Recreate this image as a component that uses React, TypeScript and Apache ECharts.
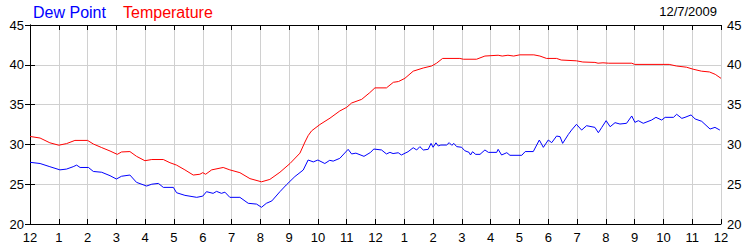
import React, { useEffect, useRef } from "react";
import * as echarts from "echarts";

// Hours after midnight (12/7/2009) and readings in °F
const tempHours = [0.0, 0.35, 0.69, 1.0, 1.27, 1.56, 2.0, 2.2, 2.49, 2.78, 3.03, 3.18, 3.47, 3.7, 3.99, 4.23, 4.63, 4.86, 5.09, 5.38, 5.67, 5.9, 6.0, 6.1, 6.31, 6.71, 6.94, 7.29, 7.64, 8.04, 8.33, 8.68, 9.03, 9.375, 9.55, 9.66, 9.78, 10.07, 10.42, 10.76, 11.0, 11.17, 11.52, 11.8, 11.98, 12.38, 12.62, 12.8, 13.02, 13.31, 13.66, 13.95, 14.12, 14.33, 14.93, 15.05, 15.51, 15.8, 16.26, 16.4, 16.6, 16.8, 17.01, 17.5, 17.71, 17.94, 18.29, 18.45, 18.98, 19.2, 19.62, 19.73, 19.9, 20.1, 20.9, 21.0, 22.2, 22.45, 22.8, 23.03, 23.32, 23.6, 23.8, 24.0];
const tempValues = [31.0, 30.8, 30.2, 29.9, 30.1, 30.5, 30.5, 30.05, 29.6, 29.17, 28.75, 29.05, 29.1, 28.5, 27.95, 28.1, 28.1, 27.7, 27.4, 26.8, 26.15, 26.25, 26.45, 26.25, 26.8, 27.1, 26.8, 26.45, 25.7, 25.3, 25.6, 26.5, 27.6, 28.9, 30.3, 31.1, 31.7, 32.5, 33.3, 34.2, 34.66, 35.2, 35.66, 36.5, 37.1, 37.1, 37.8, 37.9, 38.3, 39.2, 39.6, 39.85, 40.2, 40.8, 40.8, 40.7, 40.7, 41.1, 41.2, 41.1, 41.2, 41.1, 41.25, 41.25, 41.1, 40.8, 40.8, 40.6, 40.5, 40.35, 40.3, 40.2, 40.25, 40.2, 40.2, 40.05, 40.05, 39.85, 39.7, 39.45, 39.2, 39.1, 38.8, 38.3];

const dewHours = [0.0, 0.35, 0.69, 1.04, 1.27, 1.5, 1.62, 1.74, 2.03, 2.2, 2.49, 2.78, 3.0, 3.18, 3.47, 3.7, 4.05, 4.23, 4.46, 4.63, 4.98, 5.09, 5.38, 5.79, 6.0, 6.13, 6.36, 6.48, 6.65, 6.77, 6.94, 7.29, 7.58, 7.87, 8.04, 8.21, 8.4, 8.68, 8.9, 9.2, 9.49, 9.66, 9.84, 10.0, 10.24, 10.41, 10.53, 10.76, 11.05, 11.17, 11.32, 11.6, 11.83, 11.94, 12.21, 12.38, 12.5, 12.61, 12.79, 12.9, 13.13, 13.31, 13.43, 13.54, 13.66, 13.83, 13.93, 14.0, 14.1, 14.18, 14.27, 14.47, 14.56, 14.65, 14.72, 14.82, 14.99, 15.1, 15.25, 15.3, 15.37, 15.48, 15.63, 15.8, 15.92, 16.21, 16.26, 16.38, 16.56, 16.67, 17.08, 17.2, 17.48, 17.69, 17.83, 18.0, 18.12, 18.29, 18.41, 18.5, 18.7, 18.81, 18.98, 19.16, 19.33, 19.62, 19.74, 19.86, 20.01, 20.15, 20.32, 20.49, 20.72, 20.9, 21.01, 21.13, 21.3, 21.59, 21.74, 21.94, 22.06, 22.35, 22.46, 22.64, 22.75, 22.96, 23.1, 23.33, 23.62, 23.79, 23.96];
const dewValues = [27.75, 27.6, 27.2, 26.8, 26.9, 27.2, 27.4, 27.1, 27.1, 26.6, 26.5, 26.07, 25.65, 26.0, 26.15, 25.23, 24.77, 25.0, 25.1, 24.6, 24.6, 23.93, 23.6, 23.35, 23.5, 24.06, 23.85, 24.1, 23.85, 24.0, 23.35, 23.35, 22.6, 22.5, 22.1, 22.6, 22.9, 24.06, 24.9, 25.96, 26.78, 28.04, 27.8, 28.04, 27.6, 28.0, 27.9, 28.25, 29.38, 28.8, 28.9, 28.5, 29.0, 29.42, 29.3, 28.8, 29.0, 28.85, 28.95, 28.67, 29.08, 29.58, 29.3, 29.72, 29.3, 29.38, 30.13, 29.64, 30.2, 29.8, 29.92, 29.92, 30.22, 29.88, 30.13, 29.72, 29.64, 29.21, 29.0, 28.67, 29.08, 28.75, 28.75, 29.3, 29.0, 29.0, 29.38, 28.67, 28.96, 28.63, 28.63, 29.1, 29.1, 30.55, 29.63, 30.55, 30.22, 31.05, 30.97, 30.13, 31.26, 31.8, 32.52, 31.8, 32.35, 32.14, 31.47, 32.14, 32.98, 32.22, 32.73, 32.56, 32.65, 33.57, 32.77, 32.98, 32.65, 33.06, 33.4, 33.06, 33.4, 33.4, 33.78, 33.27, 33.4, 33.7, 33.2, 32.9, 31.93, 32.14, 31.8];

const hourLabels = ["12", "1", "2", "3", "4", "5", "6", "7", "8", "9", "10", "11", "12", "1", "2", "3", "4", "5", "6", "7", "8", "9", "10", "11", "12"];
const yTicks = { min: 20, max: 45, step: 5 };
const dateLabel = "12/7/2009";

const FONT = '"Liberation Sans", Arial, sans-serif';

const zip = (xs: number[], ys: number[]) => xs.map((x, i) => [x, ys[i]]);

export default function App() {
  const ref = useRef<HTMLDivElement>(null);
  useEffect(() => {
    document.body.style.margin = "0";
    const chart = echarts.init(ref.current!, null, { renderer: "svg" });
    const xBase = {
      type: "value" as const,
      min: 0,
      max: 24,
      interval: 1,
      axisLine: { show: true, onZero: false, lineStyle: { color: "#000", width: 1 } },
      axisTick: { show: true, inside: true, length: 5, lineStyle: { color: "#000" } },
    };
    const yBase = {
      type: "value" as const,
      min: yTicks.min,
      max: yTicks.max,
      interval: yTicks.step,
      axisLine: { show: true, lineStyle: { color: "#000", width: 1 } },
      axisTick: { show: true, inside: true, length: 5, lineStyle: { color: "#000" } },
      axisLabel: { color: "#000", fontSize: 13, fontFamily: FONT, margin: 6 },
    };
    chart.setOption({
      animation: false,
      backgroundColor: "#fff",
      grid: { left: 30, right: 29, top: 25, bottom: 26 },
      xAxis: [
        {
          ...xBase,
          position: "bottom",
          axisLabel: {
            color: "#000",
            fontSize: 13,
            fontFamily: FONT,
            margin: 7,
            formatter: (v: number) => hourLabels[Math.round(v)] ?? "",
          },
          splitLine: { show: true, lineStyle: { color: "#d0d0d0", width: 1 } },
        },
        {
          ...xBase,
          position: "top",
          axisLabel: { show: false },
          splitLine: { show: false },
        },
      ],
      yAxis: [
        { ...yBase, position: "left", splitLine: { show: true, lineStyle: { color: "#d0d0d0", width: 1 } } },
        { ...yBase, position: "right", splitLine: { show: false } },
      ],
      graphic: [
        { type: "text", left: 33, top: 4, style: { text: "Dew Point", fill: "#0000ff", font: `16px ${FONT}` } },
        { type: "text", left: 123, top: 4, style: { text: "Temperature", fill: "#ff0000", font: `16px ${FONT}` } },
        { type: "text", right: 33, top: 5, style: { text: dateLabel, fill: "#000", font: `13px ${FONT}` } },
      ],
      series: [
        {
          name: "Dew Point",
          type: "line",
          xAxisIndex: 0,
          yAxisIndex: 0,
          showSymbol: false,
          data: zip(dewHours, dewValues),
          lineStyle: { color: "#0000ff", width: 1 },
          itemStyle: { color: "#0000ff" },
        },
        {
          name: "Temperature",
          type: "line",
          xAxisIndex: 0,
          yAxisIndex: 0,
          showSymbol: false,
          data: zip(tempHours, tempValues),
          lineStyle: { color: "#ff0000", width: 1 },
          itemStyle: { color: "#ff0000" },
        },
      ],
    });
    return () => chart.dispose();
  }, []);
  return <div ref={ref} style={{ width: 750, height: 250 }} />;
}
